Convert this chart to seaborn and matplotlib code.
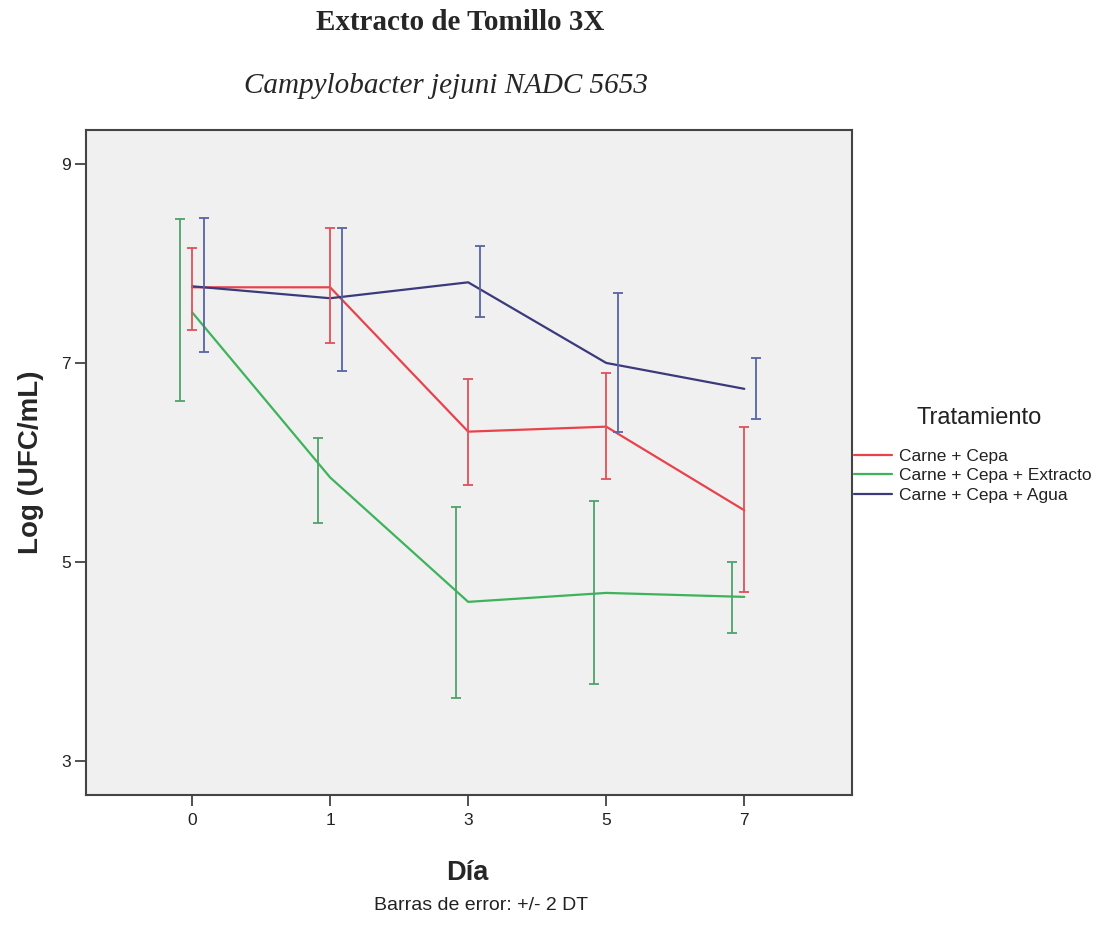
import numpy as np
import pandas as pd
import matplotlib
matplotlib.use("Agg")
import matplotlib.pyplot as plt
import seaborn as sns
from matplotlib.lines import Line2D

# ---- data ----
days = ["0", "1", "3", "5", "7"]
treatments = ["Carne + Cepa", "Carne + Cepa + Extracto", "Carne + Cepa + Agua"]

mean_cepa = [7.76, 7.76, 6.31, 6.36, 5.52]
low_cepa = [7.33, 7.20, 5.77, 5.83, 4.70]
high_cepa = [8.15, 8.36, 6.84, 6.90, 6.36]

mean_extracto = [7.51, 5.85, 4.60, 4.69, 4.65]
low_extracto = [6.62, 5.39, 3.63, 3.77, 4.29]
high_extracto = [8.45, 6.25, 5.55, 5.61, 5.00]

mean_agua = [7.77, 7.65, 7.81, 7.00, 6.74]
low_agua = [7.11, 6.92, 7.46, 6.31, 6.44]
high_agua = [8.46, 8.36, 8.17, 7.70, 7.05]

line_colors = ["#e8434c", "#3db35a", "#3a3a7c"]
bar_colors = ["#e2505a", "#4fa26a", "#5864a4"]
dodge = [0.0, -0.087, 0.087]

means = [mean_cepa, mean_extracto, mean_agua]
lows = [low_cepa, low_extracto, low_agua]
highs = [high_cepa, high_extracto, high_agua]

rows = []
for t, m in zip(treatments, means):
    for i, (d, v) in enumerate(zip(days, m)):
        rows.append({"pos": i, "Día": d, "Tratamiento": t, "valor": v})
df = pd.DataFrame(rows)

sns.set_style("white")
plt.rcParams["font.family"] = ["Liberation Sans", "DejaVu Sans"]

W, H = 1114, 944
fig = plt.figure(figsize=(W / 100, H / 100), dpi=100)
ax = fig.add_axes([86 / W, 1 - 795 / H, (852 - 86) / W, (795 - 130) / H])
ax.set_facecolor("#f0f0f0")

sns.lineplot(data=df, x="pos", y="valor", hue="Tratamiento", hue_order=treatments,
             palette=line_colors, linewidth=1.6, ax=ax, legend=False, errorbar=None)

for k in range(3):
    x = np.arange(len(days)) + dodge[k]
    m = np.array(means[k])
    lo = m - np.array(lows[k])
    hi = np.array(highs[k]) - m
    ax.errorbar(x, m, yerr=[lo, hi], fmt="none", ecolor=bar_colors[k],
                elinewidth=1.3, capsize=3.8, capthick=1.3, zorder=3)

ax.set_xlim(-0.768, 4.78)
ax.set_ylim(2.66, 9.34)
ax.set_xticks(range(len(days)))
ax.set_xticklabels(days)
ax.set_yticks([3, 5, 7, 9])
ax.set_yticklabels(["3", "5", "7", "9"])
ax.tick_params(axis="both", which="both", direction="out", length=8, width=1.2,
               color="#333333", labelsize=12.5, labelcolor="#222222", pad=3,
               bottom=True, left=True)
ax.tick_params(axis="x", pad=5)
ax.set_xlabel("")
ax.set_ylabel("")
for s in ax.spines.values():
    s.set_color("#444444")
    s.set_linewidth(1.5)
    s.set_visible(True)

# texts
fig.text(460 / W, 1 - 22 / H, "Extracto de Tomillo 3X", ha="center", va="center",
         family=["Liberation Serif", "DejaVu Serif"], fontweight="bold", fontsize=21)
fig.text(446 / W, 1 - 86 / H, "Campylobacter jejuni NADC 5653", ha="center", va="center",
         family=["Liberation Serif", "DejaVu Serif"], style="italic", fontsize=21)
fig.text(31 / W, 1 - 462 / H, "Log (UFC/mL)", ha="center", va="center", rotation=90,
         fontweight="bold", fontsize=20)
fig.text(467 / W, 1 - 873 / H, "Día", ha="center", va="center",
         fontweight="bold", fontsize=19.5)
fig.text(481 / W, 1 - 905 / H, "Barras de error: +/- 2 DT", ha="center", va="center",
         fontsize=14, color="#222222")

# legend
fig.text(979 / W, 1 - 418 / H, "Tratamiento", ha="center", va="center",
         fontsize=17, color="#222222")
handles = [Line2D([0], [0], color=c, lw=1.6) for c in line_colors]
leg = fig.legend(handles, treatments, loc="upper left",
                 bbox_to_anchor=(854 / W, 1 - 449 / H), frameon=False,
                 fontsize=12.5, handlelength=2.2,
                 handletextpad=0.4, labelspacing=0.24, borderaxespad=0.0,
                 borderpad=0.0)
for t in leg.get_texts():
    t.set_color("#222222")

fig.savefig("out.png", dpi=100, facecolor="white")
